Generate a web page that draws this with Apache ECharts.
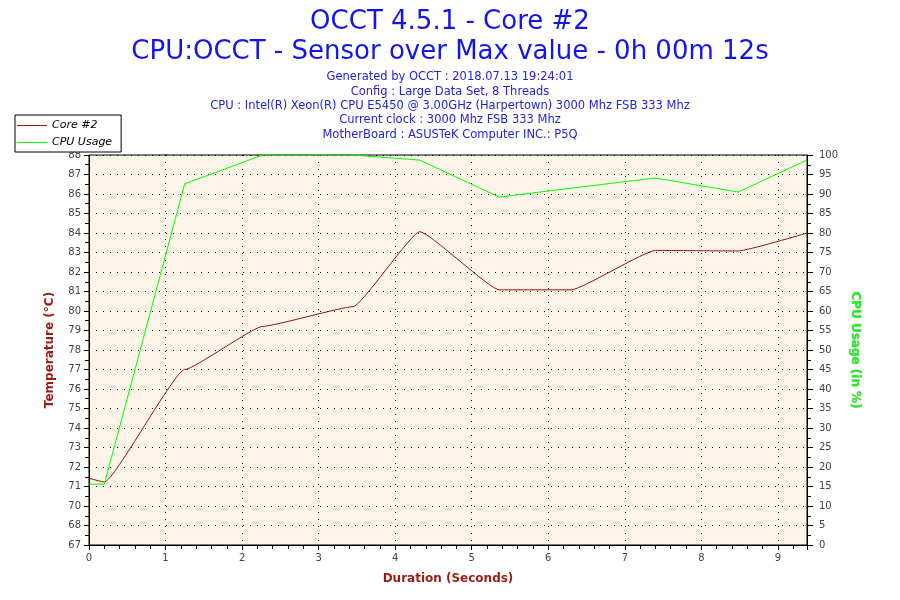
<!DOCTYPE html>
<html>
<head>
<meta charset="utf-8">
<script src="https://cdn.jsdelivr.net/npm/echarts@6/dist/echarts.min.js"></script>
<style>html,body{margin:0;padding:0;background:#fff;}#c{width:900px;height:600px;}</style>
</head>
<body>
<div id="c"></div>
<script>
// ---- data ----
const timeSec   = [0, 0.2, 1.25, 2.27, 3.45, 4.32, 5.36, 6.3, 7.4, 8.48, 9.38];
const coreTemp  = [71.5, 71.3, 77.3, 79.6, 80.65, 84.65, 81.55, 81.55, 83.65, 83.62, 84.58];
const cpuUsage  = [15.6, 15.6, 92.6, 100, 100, 98.7, 89.2, 91.5, 94.1, 90.5, 98.7];
const tempTickLabels = [67,68,70,71,72,73,74,75,76,77,78,79,80,81,82,83,84,85,86,87,88];
const tempMin = 67.94, tempStep = 1.04;
const xMax = 9.38;

const titleLines = ['OCCT 4.5.1 - Core #2', 'CPU:OCCT - Sensor over Max value - 0h 00m 12s'];
const infoLines = [
  'Generated by OCCT : 2018.07.13 19:24:01',
  'Config : Large Data Set, 8 Threads',
  'CPU : Intel(R) Xeon(R) CPU E5450 @ 3.00GHz (Harpertown) 3000 Mhz FSB 333 Mhz',
  'Current clock : 3000 Mhz FSB 333 Mhz',
  'MotherBoard : ASUSTeK Computer INC.: P5Q'
];

const FONT = 'DejaVu Sans';
const chart = echarts.init(document.getElementById('c'));
const pair = (xs, ys) => xs.map((x, i) => [x, ys[i]]);

chart.setOption({
  backgroundColor: '#ffffff',
  animation: false,
  title: [
    { text: titleLines.join('\n'), left: 'center', top: 2,
      textStyle: { color: '#1414EE', fontFamily: FONT, fontSize: 26, fontWeight: 'normal', lineHeight: 30 } },
    { text: infoLines.join('\n'), left: 'center', top: 65,
      textStyle: { color: '#2323DD', fontFamily: FONT, fontSize: 11.5, fontWeight: 'normal', lineHeight: 14.4 } }
  ],
  legend: {
    orient: 'vertical', left: 15, top: 115,
    backgroundColor: '#ffffff', borderColor: '#000', borderWidth: 1,
    padding: [5, 9, 4, 2], itemWidth: 30, itemHeight: 1, itemGap: 6,
    icon: 'rect', z: 10,
    textStyle: { fontFamily: FONT, fontSize: 11, fontStyle: 'italic', color: '#000' },
    data: ['Core #2', 'CPU Usage']
  },
  grid: { left: 89, right: 93, top: 155, bottom: 55, show: true,
          backgroundColor: '#FDF6E8', borderColor: '#000', borderWidth: 1 },
  xAxis: {
    type: 'value', min: 0, max: xMax, interval: 1,
    name: 'Duration (Seconds)', nameLocation: 'middle', nameGap: 28,
    nameTextStyle: { color: '#9B1B1B', fontFamily: FONT, fontSize: 12, fontWeight: 'bold' },
    axisLine: { lineStyle: { color: '#000' } },
    axisTick: { length: 5, lineStyle: { color: '#000' } },
    minorTick: { show: true, splitNumber: 5, length: 4, lineStyle: { color: '#000' } },
    axisLabel: { color: '#444', fontFamily: FONT, fontSize: 10, margin: 8, showMaxLabel: false },
    splitLine: { show: true, lineStyle: { color: '#000', type: [1, 6], width: 1 } }
  },
  yAxis: [
    {
      type: 'value', position: 'left', min: tempMin, max: +(tempMin + 20 * tempStep).toFixed(2), interval: tempStep,
      name: 'Temperature (°C)', nameLocation: 'middle', nameGap: 33,
      nameTextStyle: { color: '#9B1B1B', fontFamily: FONT, fontSize: 12, fontWeight: 'bold' },
      axisLine: { show: true, lineStyle: { color: '#000' } },
      axisTick: { show: true, length: 5, lineStyle: { color: '#000' } },
      minorTick: { show: true, splitNumber: 2, length: 4, lineStyle: { color: '#000' } },
      axisLabel: { color: '#444', fontFamily: FONT, fontSize: 10, margin: 8,
        formatter: v => { const i = Math.round((v - tempMin) / tempStep); return tempTickLabels[i] !== undefined ? String(tempTickLabels[i]) : ''; } },
      splitLine: { show: true, lineStyle: { color: '#000', type: [1, 6], width: 1 } }
    },
    {
      type: 'value', position: 'right', min: 0, max: 100, interval: 5,
      name: 'CPU Usage (in %)', nameLocation: 'middle', nameGap: 34, nameRotate: -90,
      nameTextStyle: { color: '#22EE22', fontFamily: FONT, fontSize: 12, fontWeight: 'bold',
                       textBorderColor: 'rgba(0,90,0,0.35)', textBorderWidth: 0.6 },
      axisLine: { show: true, lineStyle: { color: '#000' } },
      axisTick: { show: true, length: 6, lineStyle: { color: '#000' } },
      minorTick: { show: true, splitNumber: 2, length: 4, lineStyle: { color: '#000' } },
      axisLabel: { color: '#444', fontFamily: FONT, fontSize: 10, margin: 12 },
      splitLine: { show: false }
    }
  ],
  series: [
    { name: 'Core #2', type: 'line', yAxisIndex: 0, data: pair(timeSec, coreTemp),
      showSymbol: false, symbol: 'none', smooth: 0.12, smoothMonotone: 'x',
      lineStyle: { color: '#8E1414', width: 1 }, itemStyle: { color: '#8E1414' } },
    { name: 'CPU Usage', type: 'line', yAxisIndex: 1, data: pair(timeSec, cpuUsage),
      showSymbol: false, symbol: 'none', smooth: false,
      lineStyle: { color: '#00FF00', width: 1 }, itemStyle: { color: '#00FF00' } }
  ]
});
</script>
</body>
</html>
